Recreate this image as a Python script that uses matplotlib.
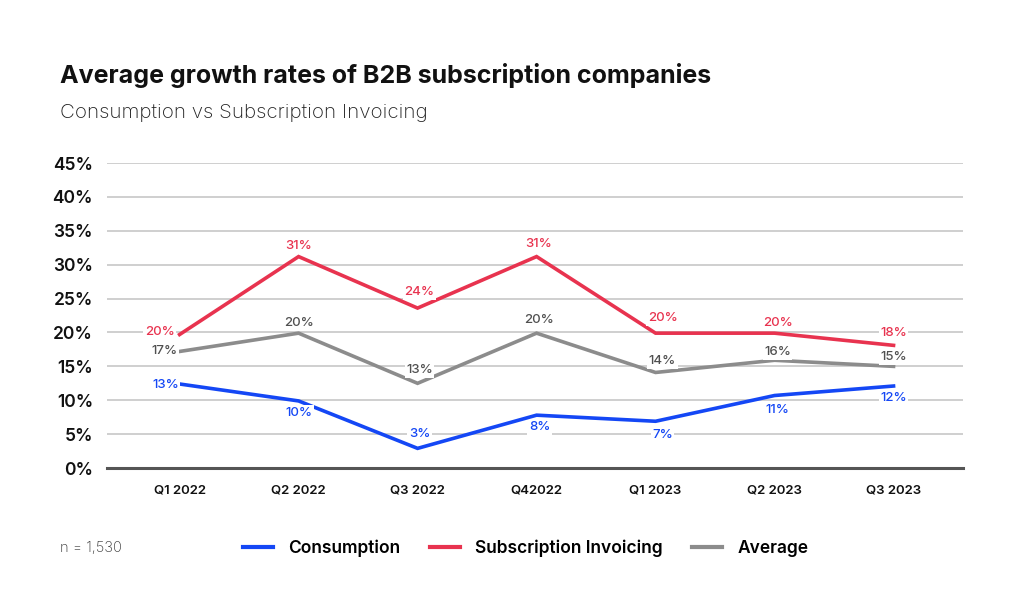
import matplotlib
matplotlib.use("Agg")
import matplotlib.pyplot as plt
from matplotlib.lines import Line2D

plt.rcParams['font.family'] = ['Inter', 'DejaVu Sans']

quarters = ["Q1 2022", "Q2 2022", "Q3 2022", "Q42022", "Q1 2023", "Q2 2023", "Q3 2023"]
consumption = [12.4, 9.9, 2.9, 7.8, 6.9, 10.7, 12.1]
subscription = [19.7, 31.2, 23.6, 31.2, 19.9, 19.9, 18.1]
average = [17.2, 19.9, 12.5, 19.9, 14.1, 15.9, 15.0]
cons_labels = ["13%", "10%", "3%", "8%", "7%", "11%", "12%"]
subs_labels = ["20%", "31%", "24%", "31%", "20%", "20%", "18%"]
avg_labels = ["17%", "20%", "13%", "20%", "14%", "16%", "15%"]
yticks = [0, 5, 10, 15, 20, 25, 30, 35, 40, 45]

BLUE = "#1447f5"
RED = "#e8334f"
GRAY = "#8c8c8c"

fig = plt.figure(figsize=(10.24, 6.13), dpi=100)
ax = fig.add_axes([0.1045, 0.2365, 0.8355, 0.4975])

x = list(range(len(quarters)))
ax.plot(x, consumption, color=BLUE, lw=2.6, solid_joinstyle='miter', zorder=3)
ax.plot(x, subscription, color=RED, lw=2.6, solid_joinstyle='miter', zorder=3)
ax.plot(x, average, color=GRAY, lw=2.6, solid_joinstyle='miter', zorder=3)

ax.set_xlim(-0.61, 6.58)
ax.set_ylim(0, 45)
ax.set_yticks(yticks)
ax.set_yticklabels([f"{v}%" for v in yticks])
ax.set_xticks(x)
ax.set_xticklabels(quarters)
for s in ["top", "right", "left"]:
    ax.spines[s].set_visible(False)
ax.spines["bottom"].set_color("#555555")
ax.spines["bottom"].set_linewidth(2.2)
ax.grid(axis='y', color="#cccccc", lw=1.3, zorder=0)
ax.tick_params(axis='both', length=0)
ax.tick_params(axis='y', labelsize=12.5, pad=10, labelcolor="#111111")
ax.tick_params(axis='x', labelsize=9.5, pad=12, labelcolor="#111111")
for t in ax.get_yticklabels():
    t.set_fontweight('semibold')
for t in ax.get_xticklabels():
    t.set_fontweight('semibold')

bbox = dict(facecolor='white', edgecolor='none', pad=1.0)

def label(series, labels, color, offsets):
    for i, (v, lab) in enumerate(zip(series, labels)):
        dx, dy = offsets[i]
        ax.annotate(lab, (i, v), xytext=(dx, dy), textcoords='offset pixels',
                    ha='center', va='center', color=color, fontsize=9.5,
                    fontweight='medium', bbox=bbox, zorder=4)

label(subscription, subs_labels, RED,
      [(-20, 3), (0, 11), (2, 16), (2, 13), (7, 15), (3, 10), (0, 12)])
label(average, avg_labels, "#505050",
      [(-15, 0), (0, 10), (2, 13), (2, 13), (7, 11), (3, 8), (0, 9)])
label(consumption, cons_labels, BLUE,
      [(-14, -1), (0, -12), (2, 14), (3, -12), (7, -14), (3, -14), (0, -12)])

fig.text(60/1024, 1-75/613, "Average growth rates of B2B subscription companies",
         fontsize=18, fontweight='bold', va='center', ha='left', color="#111111")
fig.text(60/1024, 1-113/613, "Consumption vs Subscription Invoicing",
         fontsize=14.8, fontweight='light', va='center', ha='left', color="#222222")
fig.text(60/1024, 1-548/613, "n = 1,530", fontsize=10.5, fontweight='light',
         va='center', ha='left', color="#333333")

handles = [Line2D([], [], color=BLUE, lw=3),
           Line2D([], [], color=RED, lw=3),
           Line2D([], [], color=GRAY, lw=3)]
leg = fig.legend(handles, ["Consumption", "Subscription Invoicing", "Average"],
                 loc='center', bbox_to_anchor=(526/1024, 1-548/613), ncol=3,
                 frameon=False, handlelength=1.7, handletextpad=0.9,
                 columnspacing=1.7, prop={'size': 12.5, 'weight': 'semibold'})

fig.savefig("out.png", dpi=100, facecolor='white')
